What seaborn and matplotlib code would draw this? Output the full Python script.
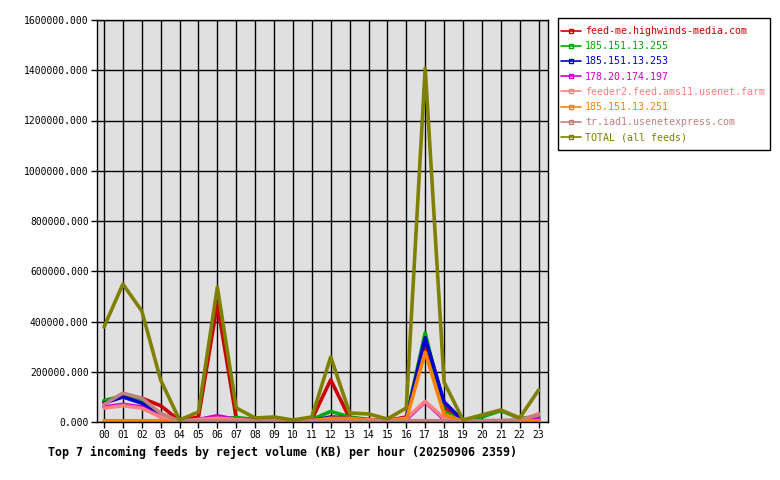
import matplotlib
matplotlib.use("Agg")
import matplotlib.pyplot as plt
from matplotlib.lines import Line2D
from matplotlib.patches import Rectangle
from matplotlib.ticker import FuncFormatter
import seaborn as sns
import pandas as pd

hours = ["00","01","02","03","04","05","06","07","08","09","10","11",
         "12","13","14","15","16","17","18","19","20","21","22","23"]

feed_names = ["feed-me.highwinds-media.com", "185.151.13.255", "185.151.13.253",
              "178.20.174.197", "feeder2.feed.ams11.usenet.farm", "185.151.13.251",
              "tr.iad1.usenetexpress.com", "TOTAL (all feeds)"]
feed_colors = ["#cc0000", "#00aa00", "#0000cc", "#cc00cc", "#ff8080", "#ff8000",
               "#c08080", "#808000"]

highwinds = [80000, 100000, 95000, 65000, 5000, 20000, 470000, 15000, 5000, 8000, 4000, 10000,
             168000, 15000, 8000, 5000, 20000, 305000, 60000, 3000, 5000, 5000, 5000, 10000]
ip_255 = [85000, 105000, 90000, 30000, 3000, 10000, 10000, 18000, 10000, 12000, 5000, 10000,
          42000, 20000, 10000, 5000, 15000, 355000, 40000, 5000, 20000, 45000, 15000, 20000]
ip_253 = [75000, 100000, 75000, 25000, 3000, 8000, 10000, 10000, 5000, 5000, 3000, 5000,
          20000, 15000, 8000, 5000, 15000, 335000, 80000, 5000, 5000, 5000, 5000, 15000]
ip_197 = [60000, 70000, 60000, 20000, 3000, 10000, 25000, 10000, 5000, 5000, 3000, 5000,
          10000, 10000, 10000, 5000, 10000, 80000, 10000, 3000, 3000, 3000, 3000, 15000]
feeder2 = [55000, 65000, 55000, 20000, 3000, 10000, 15000, 10000, 5000, 5000, 3000, 5000,
           10000, 10000, 8000, 5000, 15000, 82000, 15000, 3000, 3000, 3000, 3000, 33000]
ip_251 = [5000, 5000, 5000, 5000, 3000, 3000, 5000, 5000, 3000, 3000, 3000, 5000,
          15000, 15000, 8000, 5000, 10000, 278000, 30000, 3000, 3000, 3000, 3000, 5000]
usenetexpress = [70000, 115000, 95000, 35000, 3000, 5000, 5000, 5000, 5000, 5000, 5000, 5000,
                 5000, 5000, 5000, 5000, 5000, 5000, 5000, 5000, 5000, 5000, 10000, 28000]
total = [378000, 549000, 442000, 167000, 8000, 40000, 537000, 56000, 16000, 20000, 8000, 20000,
         259000, 36000, 32000, 12000, 56000, 1409000, 159000, 8000, 28000, 48000, 16000, 127000]

series = [highwinds, ip_255, ip_253, ip_197, feeder2, ip_251, usenetexpress, total]

rows = []
for name, vals in zip(feed_names, series):
    for i, v in enumerate(vals):
        rows.append({"hour": i, "feed": name, "kb": v})
df = pd.DataFrame(rows)

sns.set_theme(style="white")
plt.rcParams["font.family"] = ["DejaVu Sans Mono", "DejaVu Sans"]

fig = plt.figure(figsize=(7.8, 4.8), dpi=100)
ax = fig.add_axes([97/780, 1-422/480, (548-97)/780, (422-20)/480])
ax.set_facecolor("#e0e0e0")

sns.lineplot(data=df, x="hour", y="kb", hue="feed", hue_order=feed_names,
             palette=dict(zip(feed_names, feed_colors)), linewidth=2.6,
             legend=False, ax=ax)

ax.set_xlim(-0.37, 23.5)
ax.set_ylim(0, 1600000)
ax.set_xticks(range(24))
ax.set_xticklabels(hours)
ax.set_yticks(range(0, 1600001, 200000))
ax.yaxis.set_major_formatter(FuncFormatter(lambda v, p: "%.3f" % v))
ax.grid(True, color="black", linewidth=1.0)
ax.set_axisbelow(True)
for s in ax.spines.values():
    s.set_color("black")
    s.set_linewidth(1.0)
ax.tick_params(axis="both", labelsize=7, colors="black", length=4, width=1,
               direction="out", left=True, bottom=True, pad=2)
ax.set_xlabel("")
ax.set_ylabel("")

# legend frame drawn separately (asymmetric padding)
fig.patches.append(Rectangle((558/780, 1-150/480), (770-558)/780, (150-18)/480,
                             transform=fig.transFigure, facecolor="white",
                             edgecolor="black", linewidth=1.0, zorder=0))

handles = [Line2D([0], [0], color=c, linewidth=1.2, marker="s", markersize=3,
                  markerfacecolor="none", markeredgecolor=c) for c in feed_colors]
leg = fig.legend(handles, feed_names, loc="upper left",
                 bbox_to_anchor=(561/780, 1-26/480), frameon=False,
                 fontsize=7.2, handlelength=2.0,
                 handletextpad=0.4, borderpad=0, labelspacing=0.52,
                 borderaxespad=0)
for t, c in zip(leg.get_texts(), feed_colors):
    t.set_color(c)

fig.text(48/780, 1-452/480, "Top 7 incoming feeds by reject volume (KB) per hour (20250906 2359)",
         fontsize=8.4, fontweight="bold", ha="left", va="center", color="black")

fig.savefig("out.png", dpi=100, facecolor="white")
